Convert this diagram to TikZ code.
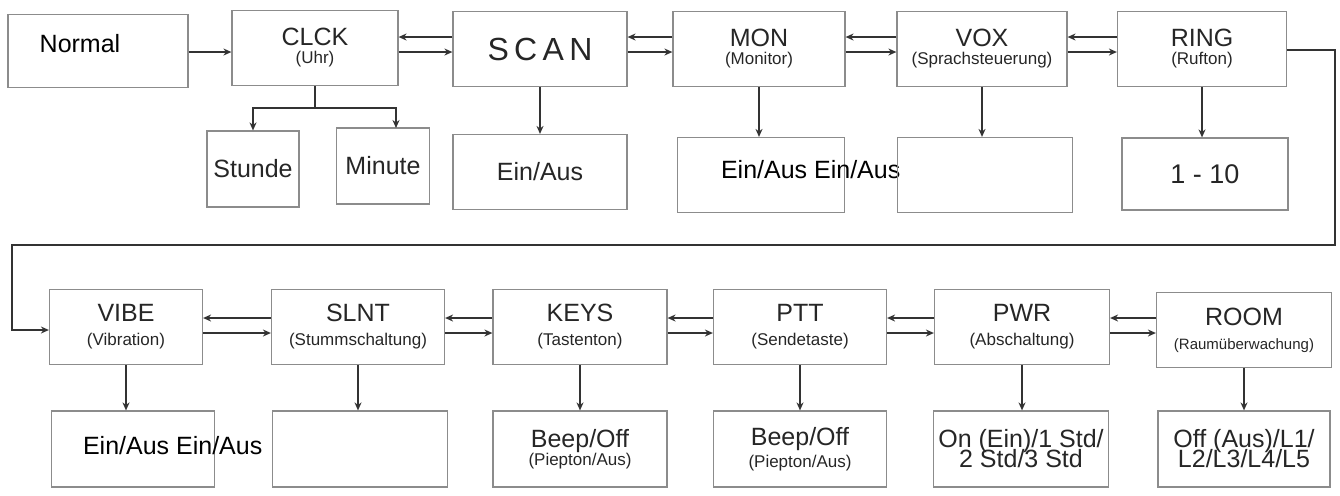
\documentclass[tikz,border=0pt]{standalone}
\usepackage{fontspec}
\setmainfont{Liberation Sans}
\usetikzlibrary{arrows.meta}
\newcommand{\subf}{\fontsize{8.5}{9}\selectfont}
\begin{document}
\begin{tikzpicture}[x=0.5pt,y=-0.5pt,
 box/.style={draw=black!45,line width=0.6pt,inner sep=0pt,align=center,font=\fontsize{12.5}{13}\selectfont,text=black!85},
 ar/.style={draw=black!80,line width=0.9pt,-{Stealth[length=4pt,width=3.5pt]}},
 ln/.style={draw=black!80,line width=0.9pt}]
\useasboundingbox (0,0) rectangle (1340,495);
\newcommand{\bx}[6]{\node[box,minimum width=#4*0.5pt,minimum height=#5*0.5pt] (#1) at (#2,#3) {#6};}
% top row
\bx{normal}{98}{51}{180}{73}{}
\node[font=\fontsize{12.5}{13}\selectfont] (normalt) at (80,44) {Normal};
\bx{clck}{315}{48}{166}{75}{CLCK\\[-4pt]{\subf(Uhr)}}
\bx{scan}{540}{49}{174}{75}{\fontsize{16}{17}\selectfont S\,C\,A\,N}
\bx{mon}{759}{49}{172}{75}{MON\\[-4pt]{\subf(Monitor)}}
\bx{vox}{982}{49}{170}{75}{VOX\\[-4pt]{\subf(Sprachsteuerung)}}
\bx{ring}{1202}{49}{169}{75}{RING\\[-4pt]{\subf(Rufton)}}
% top subs
\bx{stunde}{253}{169}{92}{76}{Stunde}
\bx{minute}{383}{166}{93}{76}{Minute}
\bx{scans}{540}{172}{174}{75}{Ein/Aus}
\bx{mons}{761}{175}{167}{75}{}
\node[font=\fontsize{12.5}{13}\selectfont,anchor=west] (monst) at (714,170) {Ein/Aus Ein/Aus};
\bx{voxs}{985}{175}{175}{75}{}
\bx{rings}{1205}{174}{166}{72}{\fontsize{13.5}{14}\selectfont 1 - 10}
% row 2
\bx{vibe}{126}{327}{153}{75}{VIBE\\[-1pt]{\subf(Vibration)}}
\bx{slnt}{358}{327}{173}{75}{SLNT\\[-1pt]{\subf(Stummschaltung)}}
\bx{keys}{580}{327}{174}{75}{KEYS\\[-1pt]{\subf(Tastenton)}}
\bx{ptt}{800}{327}{173}{75}{PTT\\[-1pt]{\subf(Sendetaste)}}
\bx{pwr}{1022}{327}{175}{75}{PWR\\[-1pt]{\subf(Abschaltung)}}
\bx{room}{1244}{330}{175}{75}{ROOM\\[-1pt]{\fontsize{7.5}{8}\selectfont(Raumüberwachung)}}
% row 3
\bx{vibes}{133}{449}{163}{76}{}
\node[font=\fontsize{12.5}{13}\selectfont,anchor=west] (vibest) at (76,446) {Ein/Aus Ein/Aus};
\bx{slnts}{360}{449}{175}{76}{}
\bx{keyss}{580}{449}{174}{76}{Beep/Off\\[-4pt]{\subf(Piepton/Aus)}}
\bx{ptts}{800}{449}{173}{76}{Beep/Off\\[-2pt]{\subf(Piepton/Aus)}}
\bx{pwrs}{1021}{449}{175}{76}{On (Ein)/1 Std/\\[-3pt]2 Std/3 Std}
\bx{rooms}{1244}{449}{172}{76}{Off (Aus)/L1/\\[-3pt]L2/L3/L4/L5}
% arrows top row
\draw[ar] (normal.east |- 0,52) -- (clck.west |- 0,52);
\foreach \a/\b in {clck/scan,scan/mon,mon/vox,vox/ring}{
 \draw[ar] (\b.west |- 0,37) -- (\a.east |- 0,37);
 \draw[ar] (\a.east |- 0,52) -- (\b.west |- 0,52);}
\foreach \a/\b in {vibe/slnt,slnt/keys,keys/ptt,ptt/pwr,pwr/room}{
 \draw[ar] (\b.west |- 0,318) -- (\a.east |- 0,318);
 \draw[ar] (\a.east |- 0,333) -- (\b.west |- 0,333);}
% clck branch
\coordinate (br) at (315,108);
\draw[ln] (clck.south) -- (br);
\draw[ar] (br) -| (stunde.north);
\draw[ar] (br) -| (396,128);
% downs
\draw[ar] (scan.south) -- (scans.north -| scan.south);
\draw[ar] (mon.south) -- (mon.south |- mons.north);
\draw[ar] (vox.south) -- (vox.south |- voxs.north);
\draw[ar] (ring.south) -- (ring.south |- rings.north);
\draw[ar] (vibe.south) -- (vibe.south |- vibes.north);
\draw[ar] (slnt.south) -- (slnt.south |- slnts.north);
\draw[ar] (keys.south) -- (keys.south |- keyss.north);
\draw[ar] (ptt.south) -- (ptt.south |- ptts.north);
\draw[ar] (pwr.south) -- (pwr.south |- pwrs.north);
\draw[ar] (room.south) -- (room.south |- rooms.north);
% wrap connector
\coordinate (w1) at (1335,50);
\coordinate (w2) at (1335,245);
\coordinate (w3) at (12,245);
\coordinate (w4) at (12,330);
\draw[ar] (ring.east |- w1) -- (w1) -- (w2) -- (w3) -- (w4) -- (vibe.west |- w4);
\end{tikzpicture}
\end{document}
